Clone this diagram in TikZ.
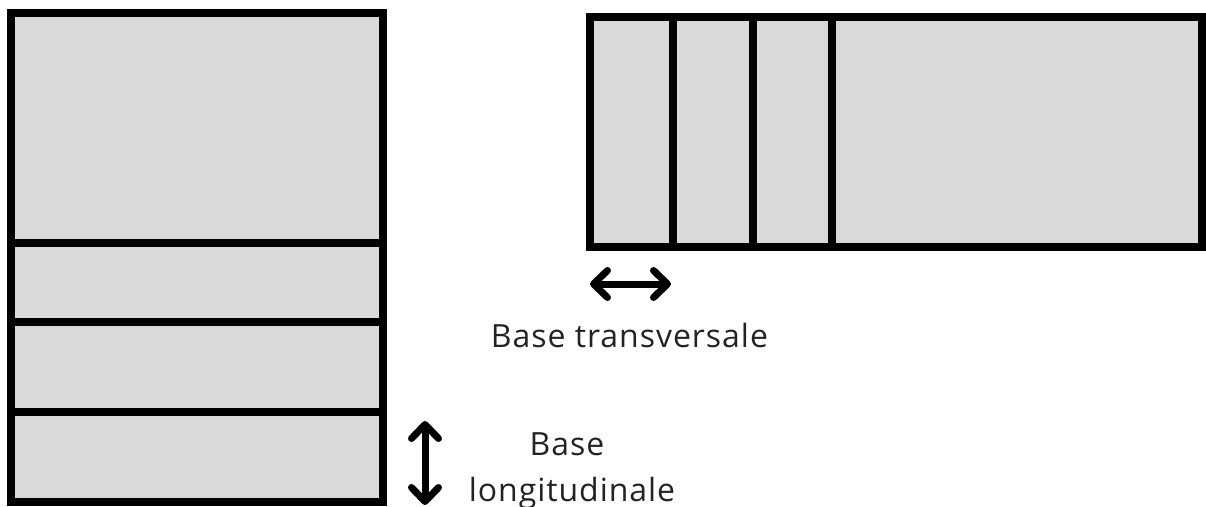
\documentclass[tikz,border=0pt]{standalone}
\usepackage{fontspec}
\setmainfont{Open Sans}
\newfontfamily\lblfont[LetterSpace=3]{Open Sans}
\usetikzlibrary{arrows.meta, positioning}
\definecolor{PanelGray}{RGB}{217,217,217}
\definecolor{TextDark}{RGB}{35,35,35}
\tikzstyle{panel} = [draw=black, fill=PanelGray, line width=8pt]
\tikzstyle{divider} = [draw=black, line width=8pt]
\tikzstyle{dimarrow} = [line width=7pt, {Straight Barb[round, length=14pt, width=27pt]}-{Straight Barb[round, length=14pt, width=27pt]}]
\tikzstyle{textlbl} = [font=\lblfont\fontsize{32}{38}\selectfont, text=TextDark, anchor=base, inner sep=0pt]

\begin{document}
\begin{tikzpicture}[x=1pt, y=-1pt]
    \useasboundingbox (0,0) rectangle (1206,506);
    % longitudinal layout
    \draw[panel] (10.5,13) rectangle (383,502);
    \foreach \y in {243,322,412} \draw[divider] (10.5,\y) -- (383,\y);
    % transversal layout
    \draw[panel] (590,17) rectangle (1202,247);
    \foreach \x in {673,753,832} \draw[divider] (\x,17) -- (\x,247);
    % dimension arrows
    \coordinate (transL) at (590,284);
    \coordinate (transR) at (671,284);
    \draw[dimarrow] (transL) -- (transR);
    \coordinate (longiT) at (425,421);
    \coordinate (longiB) at (425,505);
    \draw[dimarrow] (longiT) -- (longiB);
    \node[textlbl] (transTxt) at (629.5,347) {Base transversale};
    \node[textlbl] (longiTxtA) at (567,455) {Base};
    \node[textlbl] (longiTxtB) at (572,501) {longitudinale};
\end{tikzpicture}
\end{document}
